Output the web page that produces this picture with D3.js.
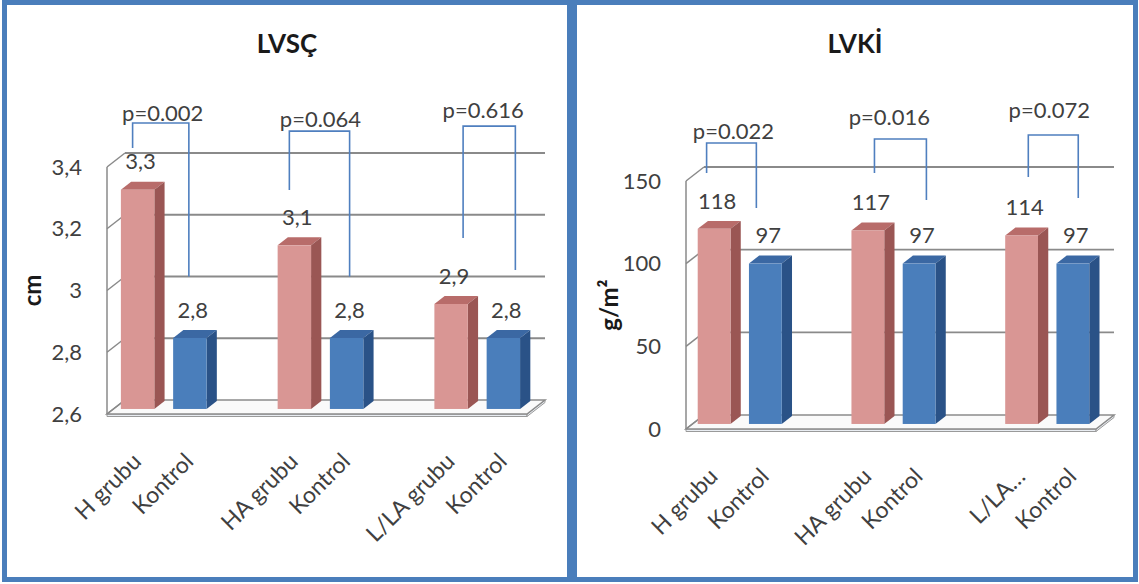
<!DOCTYPE html>
<html>
<head>
<meta charset="utf-8">
<script src="https://cdn.jsdelivr.net/npm/d3@7"></script>
<style>
  html, body { margin: 0; padding: 0; background: #ffffff; }
  svg { display: block; font-family: Lato, "Open Sans", sans-serif; }
</style>
</head>
<body>
<svg id="chart" width="1139" height="584"></svg>
<script>
// ---- data ----
// category labels under each column (group, control) x 3
const lvscLabels = ["H grubu", "Kontrol", "HA grubu", "Kontrol", "L/LA grubu", "Kontrol"];
const lvkiLabels = ["H grubu", "Kontrol", "HA grubu", "Kontrol", "L/LA…", "Kontrol"];

// patient groups (pink) and their controls (blue)
const lvscGroup   = [3.31, 3.13, 2.94];
const lvscControl = [2.83, 2.83, 2.83];
const lvkiGroup   = [118, 117, 114];
const lvkiControl = [97, 97, 97];

// group vs control comparisons
const lvscP = ["p=0.002", "p=0.064", "p=0.616"];
const lvkiP = ["p=0.022", "p=0.016", "p=0.072"];

// value axis ticks
const lvscTicks = [2.6, 2.8, 3.0, 3.2, 3.4];
const lvkiTicks = [0, 50, 100, 150];

// ---- layout ----
const trLocale = d3.formatLocale({ decimal: ",", thousands: ".", grouping: [3], currency: ["", " TL"] });

const COLORS = {
  group:   { front: "#d99694", side: "#9a5654", top: "#b86c6a" },
  control: { front: "#4a7ebb", side: "#2a5287", top: "#3b68a3" }
};

const DX = 18, DY = 14;        // depth offset from back wall to front edge
const Z0 = 0.07, Z1 = 0.64;    // column depth (fraction of floor depth)

const panels = [
  {
    title: "LVSÇ", yTitle: "cm", cx: 287, yTitleX: 33,
    labels: lvscLabels, group: lvscGroup, control: lvscControl, pvals: lvscP,
    ticks: lvscTicks, tickFmt: trLocale.format(".2~r"), valFmt: trLocale.format(".1f"),
    wall: [125, 545], band: [123, 541], domain: [2.6, 3.4], range: [400, 153],
    // comparison brackets, heights in axis units, horizontal nudges in px
    brackets: {
      top: [3.497, 3.471, 3.487], leftEnd: [3.416, 3.28, 3.125], rightEnd: [3.0, 3.0, 3.021],
      leftNudge: [-5, -5, 12], rightNudge: [-1, 3, 12], textDx: [2, 1, -6], textRise: [10, 12, 16]
    }
  },
  {
    title: "LVKİ", yTitle: "g/m²", cx: 855, yTitleX: 610,
    labels: lvkiLabels, group: lvkiGroup, control: lvkiControl, pvals: lvkiP,
    ticks: lvkiTicks, tickFmt: trLocale.format("d"), valFmt: trLocale.format("d"),
    wall: [704, 1114], band: [700, 1110], domain: [0, 150], range: [415, 167],
    brackets: {
      top: [164.5, 166.9, 169.4], leftEnd: [146.4, 146.4, 144], rightEnd: [125.2, 130, 131.3],
      leftNudge: [-7.5, 6.6, 6.7], rightNudge: [-9, 7.3, 5.4], textDx: [2, -11, -4], textRise: [12, 22, 25]
    }
  }
];

const svg = d3.select("#chart");
const P = (x, y, z) => [x - DX * z, y + DY * z];
const poly = pts => "M" + pts.map(p => p.join(",")).join("L") + "Z";

panels.forEach(cfg => {
  const g = svg.append("g");
  const y = d3.scaleLinear().domain(cfg.domain).range(cfg.range);
  const x = d3.scaleBand().domain(d3.range(8)).range(cfg.band)
    .paddingInner(0.36).paddingOuter(0.18);
  const [wx0, wx1] = cfg.wall;
  const yBase = y(cfg.domain[0]);

  // floor slab
  const f0 = P(wx0, yBase, 0), f1 = P(wx1, yBase, 0), f2 = P(wx1, yBase, 1), f3 = P(wx0, yBase, 1);
  g.append("path").attr("d", poly([f3, f2, [f2[0], f2[1] + 2.5], [f3[0], f3[1] + 2.5]]))
    .attr("fill", "#e9edf2").attr("stroke", "#9a9a9a").attr("stroke-width", 1);
  g.append("path").attr("d", poly([f2, f1, [f1[0], f1[1] + 2.5], [f2[0], f2[1] + 2.5]]))
    .attr("fill", "#e9edf2").attr("stroke", "#9a9a9a").attr("stroke-width", 1);
  g.append("path").attr("d", poly([f0, f1, f2, f3]))
    .attr("fill", "#fafafa").attr("stroke", "#8c8c8c").attr("stroke-width", 1.5);

  // back wall gridlines and side wall ticks
  cfg.ticks.forEach(t => {
    if (t !== cfg.domain[0]) {
      g.append("line").attr("x1", wx0).attr("x2", wx1).attr("y1", y(t)).attr("y2", y(t))
        .attr("stroke", "#8a8a8a").attr("stroke-width", 1.8);
    }
    const a = P(wx0, y(t), 1), b = P(wx0, y(t), 0);
    g.append("line").attr("x1", a[0]).attr("y1", a[1]).attr("x2", b[0]).attr("y2", b[1])
      .attr("stroke", "#8a8a8a").attr("stroke-width", 1.5);
  });
  // vertical value axis along the front edge
  const axTop = P(wx0, y(cfg.domain[1]), 1), axBot = P(wx0, yBase, 1);
  g.append("line").attr("x1", axTop[0]).attr("y1", axTop[1]).attr("x2", axBot[0]).attr("y2", axBot[1])
    .attr("stroke", "#8a8a8a").attr("stroke-width", 1.5);

  // tick labels
  g.selectAll(".tick").data(cfg.ticks).join("text")
    .attr("x", axBot[0] - 25).attr("y", d => P(wx0, y(d), 1)[1])
    .attr("dy", "0.35em").attr("text-anchor", "end")
    .attr("font-size", 22).attr("fill", "#404040")
    .text(d => cfg.tickFmt(d));

  // columns
  const cols = [];
  cfg.group.forEach((v, i) => {
    cols.push({ slot: 3 * i, value: v, kind: "group", label: cfg.labels[2 * i] });
    cols.push({ slot: 3 * i + 1, value: cfg.control[i], kind: "control", label: cfg.labels[2 * i + 1] });
  });

  cols.forEach(c => {
    const xl = x(c.slot), xr = xl + x.bandwidth();
    const yt = y(c.value);
    const col = COLORS[c.kind];
    g.append("path").attr("d", poly([P(xl, yt, Z1), P(xr, yt, Z1), P(xr, yt, Z0), P(xl, yt, Z0)]))
      .attr("fill", col.top);
    g.append("path").attr("d", poly([P(xr, yt, Z1), P(xr, yt, Z0), P(xr, yBase, Z0), P(xr, yBase, Z1)]))
      .attr("fill", col.side);
    const fa = P(xl, yt, Z1), fb = P(xr, yBase, Z1);
    g.append("rect").attr("x", fa[0]).attr("y", fa[1])
      .attr("width", fb[0] - fa[0]).attr("height", fb[1] - fa[1])
      .attr("fill", col.front);
    c.cx = (fa[0] + fb[0]) / 2;
    c.backTop = P(xl, yt, Z0)[1];

    // value label
    g.append("text").attr("x", c.cx + 3).attr("y", c.backTop - 20)
      .attr("dy", "0.35em").attr("text-anchor", "middle")
      .attr("font-size", 22).attr("fill", "#404040")
      .text(cfg.valFmt(c.value));

    // category label
    const lx = c.cx + 5, ly = axBot[1] + 49;
    g.append("text").attr("transform", `translate(${lx},${ly}) rotate(-45)`)
      .attr("text-anchor", "end").attr("font-size", 23).attr("fill", "#404040")
      .text(c.label);
  });

  // comparison brackets
  const br = cfg.brackets;
  cfg.pvals.forEach((p, i) => {
    const a = cols[2 * i], b = cols[2 * i + 1];
    const lx = a.cx + br.leftNudge[i], rx = b.cx + br.rightNudge[i];
    const ty = y(br.top[i]);
    g.append("path")
      .attr("d", `M${lx},${y(br.leftEnd[i])}V${ty}H${rx}V${y(br.rightEnd[i])}`)
      .attr("fill", "none").attr("stroke", "#4f7fbf").attr("stroke-width", 1.6);
    g.append("text").attr("x", (lx + rx) / 2 + br.textDx[i]).attr("y", ty - br.textRise[i])
      .attr("dy", "0.35em").attr("text-anchor", "middle")
      .attr("font-size", 22).attr("fill", "#404040")
      .text(p);
  });

  // titles
  g.append("text").attr("x", cfg.cx).attr("y", 53).attr("text-anchor", "middle")
    .attr("font-size", 26).attr("font-weight", "bold").attr("fill", "#1a1a1a")
    .text(cfg.title);
  const midY = (axTop[1] + axBot[1]) / 2;
  g.append("text").attr("transform", `translate(${cfg.yTitleX},${midY}) rotate(-90)`)
    .attr("dy", "0.35em").attr("text-anchor", "middle")
    .attr("font-size", 24).attr("font-weight", "bold").attr("fill", "#1a1a1a")
    .text(cfg.yTitle);
});

// panel frames
svg.append("rect").attr("x", 4.5).attr("y", 2.5).attr("width", 565).attr("height", 577)
  .attr("fill", "none").attr("stroke", "#4a7ebb").attr("stroke-width", 5);
svg.append("rect").attr("x", 574.5).attr("y", 2.5).attr("width", 561).attr("height", 577)
  .attr("fill", "none").attr("stroke", "#4a7ebb").attr("stroke-width", 5);
</script>
</body>
</html>
